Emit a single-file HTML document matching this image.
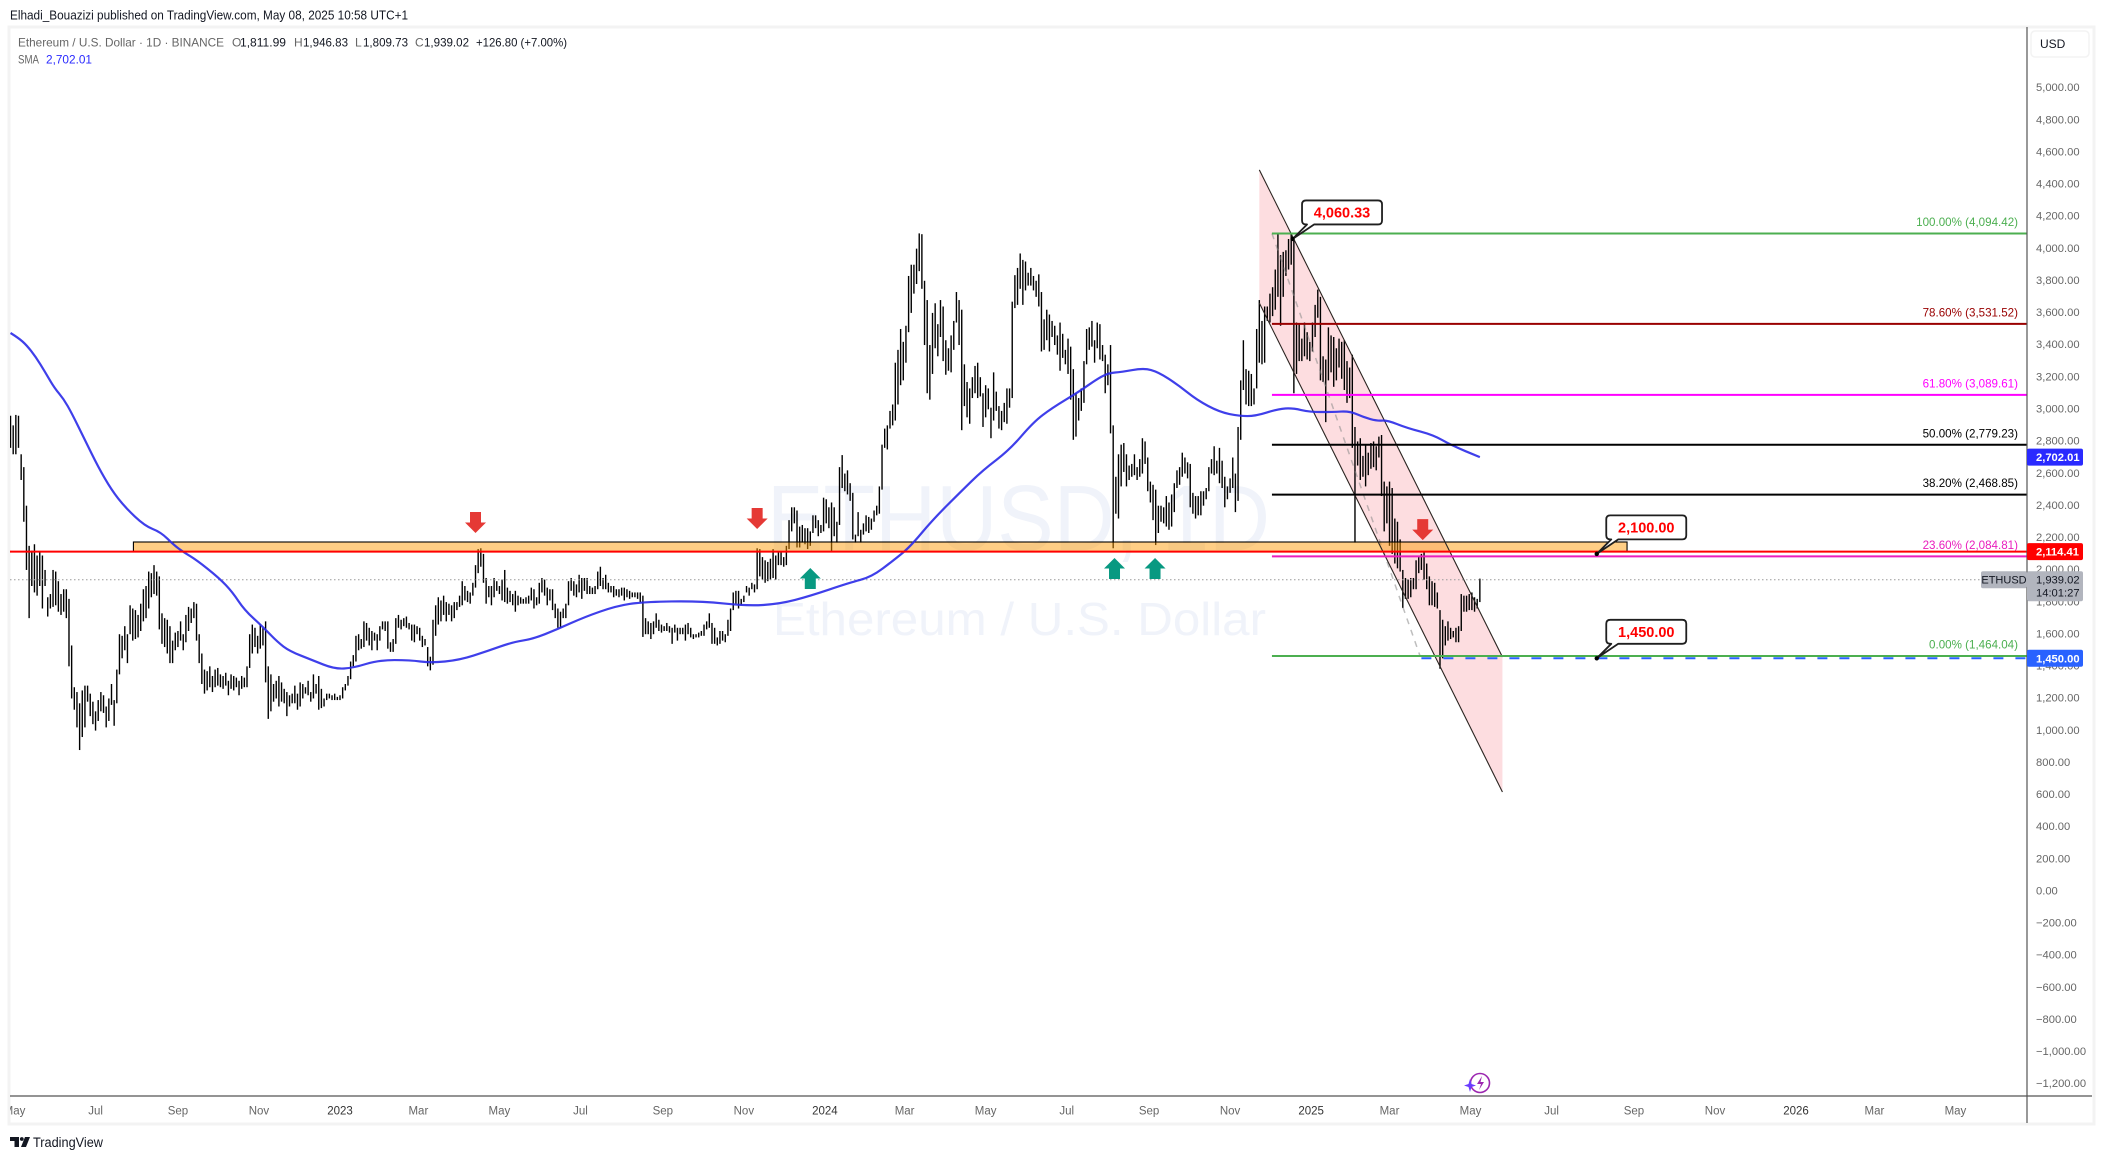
<!DOCTYPE html>
<html lang="en">
<head>
<meta charset="utf-8">
<title>ETHUSD 1D chart</title>
<style>
html,body{margin:0;padding:0;background:#fff;}
svg{display:block;font-family:"Liberation Sans",sans-serif;}
</style>
</head>
<body>
<svg id="chart" xmlns="http://www.w3.org/2000/svg" width="2103" height="1159" viewBox="0 0 2103 1159">
  <defs>
    <clipPath id="plot-clip"><rect x="10" y="27" width="2017" height="1069"/></clipPath>
    <clipPath id="time-clip"><rect x="10" y="1097" width="2017" height="26"/></clipPath>
  </defs>
  <rect x="0" y="0" width="2103" height="1159" fill="#ffffff"/>
  <text x="10" y="19.5" font-size="12.5" fill="#131722" textLength="398" lengthAdjust="spacingAndGlyphs">Elhadi_Bouazizi published on TradingView.com, May 08, 2025 10:58 UTC+1</text>
  <rect x="9" y="27" width="2085" height="1097" fill="#ffffff" stroke="#f3f3f3" stroke-width="3"/>

  <g id="plot" clip-path="url(#plot-clip)">
    <text x="767" y="550" font-size="93" fill="#f0f3fa" textLength="503" lengthAdjust="spacingAndGlyphs">ETHUSD, 1D</text>
    <text x="773" y="635" font-size="46" fill="#f0f3fa" textLength="493" lengthAdjust="spacingAndGlyphs">Ethereum / U.S. Dollar</text>
    <g id="drawings-under"></g>
    <g id="bars"></g>
    <g id="overlays"></g>
  </g>

  <g id="time-axis">
    <line x1="10" y1="1096" x2="2092" y2="1096" stroke="#555" stroke-width="1.3"/>
    <g id="time-labels" clip-path="url(#time-clip)"></g>
  </g>

  <g id="price-axis">
    <line x1="2027" y1="27" x2="2027" y2="1123" stroke="#555" stroke-width="1.2"/>
    <g>
      <rect x="2031" y="31" width="58" height="26" rx="4" fill="#fff" stroke="#f3f3f3" stroke-width="1.5"/>
      <text x="2040" y="48" font-size="12" fill="#131722">USD</text>
    </g>
    <g id="price-ticks"></g>
    <g id="price-badges"></g>
  </g>

  <g font-size="12" fill="#666">
    <text x="18" y="46.5" textLength="206" lengthAdjust="spacingAndGlyphs">Ethereum / U.S. Dollar · 1D · BINANCE</text>
    <text x="232" y="46.5">O</text>
    <text x="240" y="46.5" fill="#131722" textLength="46" lengthAdjust="spacingAndGlyphs">1,811.99</text>
    <text x="294" y="46.5">H</text>
    <text x="303" y="46.5" fill="#131722" textLength="45" lengthAdjust="spacingAndGlyphs">1,946.83</text>
    <text x="355" y="46.5">L</text>
    <text x="363" y="46.5" fill="#131722" textLength="45" lengthAdjust="spacingAndGlyphs">1,809.73</text>
    <text x="415" y="46.5">C</text>
    <text x="424" y="46.5" fill="#131722" textLength="45" lengthAdjust="spacingAndGlyphs">1,939.02</text>
    <text x="476" y="46.5" fill="#131722" textLength="91" lengthAdjust="spacingAndGlyphs">+126.80 (+7.00%)</text>
    <text x="18" y="63.5" textLength="21" lengthAdjust="spacingAndGlyphs">SMA</text>
    <text x="46" y="63.5" fill="#2a2aff" textLength="46" lengthAdjust="spacingAndGlyphs">2,702.01</text>
  </g>

  <g fill="none">
    <circle cx="1480" cy="1083" r="9.5" stroke="#9c27b0" stroke-width="1.6"/>
    <path d="M1482 1076 L1477 1084 L1481 1084 L1479 1090 L1484 1082 L1480.500 1082 Z" fill="#9c27b0"/>
    <path d="M1470 1079 L1471.500 1084 L1476 1085.500 L1471.500 1087 L1470 1092 L1468.500 1087 L1464 1085.500 L1468.500 1084 Z" fill="#6a3cff"/>
  </g>

  <g>
    <path d="M10 1137 H19 V1147 H14.500 V1141 H10 Z M25 1137 H30 L26 1147 H21 Z" fill="#131722"/>
    <circle cx="21.800" cy="1139" r="1.900" fill="#131722"/>
    <text x="33" y="1147" font-size="13.500" fill="#131722" textLength="70" lengthAdjust="spacingAndGlyphs">TradingView</text>
  </g>
</svg>

<script>
// ---- Chart data -----------------------------------------------------------
// Two-day price bars; each row spans 30 days, first bar is 250 days before 2023-01-01.
const barStartDay = -250;
const barStepDays = 2;
const candleHighs = [
2950,2960,2900,2965,2960,2720,2640,2400,2150,2120,2160,2090,2110,2090,2000,
1830,1850,2000,1990,1930,1850,1880,1880,1820,1530,1270,1240,1170,1250,1280,
1280,1230,1180,1120,1190,1240,1220,1150,1200,1290,1190,1380,1600,1590,1650,
1600,1780,1760,1750,1720,1790,1880,1900,1990,1980,2030,1990,1960,1730,1700,
1690,1650,1560,1610,1620,1680,1600,1720,1770,1760,1800,1790,1600,1480,1380,
1370,1400,1340,1380,1390,1350,1340,1360,1310,1350,1340,1330,1310,1340,1330,
1400,1600,1660,1640,1590,1660,1640,1680,1400,1350,1290,1310,1340,1300,1260,
1240,1220,1230,1280,1230,1300,1290,1270,1310,1240,1350,1290,1340,1260,1200,
1230,1230,1220,1230,1210,1220,1270,1290,1340,1430,1470,1590,1600,1570,1680,
1670,1640,1620,1610,1600,1650,1680,1680,1680,1550,1570,1700,1720,1690,1700,
1710,1670,1660,1660,1650,1640,1590,1570,1520,1460,1690,1780,1830,1810,1840,
1800,1790,1780,1800,1800,1840,1930,1900,1870,1860,1920,2030,2130,2135,2100,
1950,1900,1900,1950,1930,1900,1940,2000,1890,1870,1850,1870,1840,1830,1820,
1830,1840,1890,1880,1830,1920,1950,1940,1890,1880,1880,1790,1760,1740,1760,
1790,1930,1950,1930,1910,1970,1950,1950,1950,1900,1890,1900,1990,2020,1950,
1970,1920,1900,1900,1880,1880,1890,1890,1880,1870,1860,1860,1860,1860,1840,
1700,1680,1670,1680,1730,1690,1660,1650,1670,1650,1640,1660,1640,1640,1640,
1660,1670,1640,1600,1600,1610,1620,1660,1680,1730,1670,1640,1580,1620,1620,
1600,1690,1760,1860,1870,1870,1820,1840,1900,1890,1920,1910,2135,2130,2080,
2060,2050,2070,2130,2090,2110,2110,2080,2150,2310,2390,2390,2370,2270,2280,
2260,2260,2240,2340,2340,2310,2280,2450,2440,2390,2420,2390,2300,2640,2715,
2600,2620,2540,2480,2220,2360,2250,2290,2340,2330,2320,2370,2400,2520,2780,
2880,2900,2990,3030,3290,3370,3500,3420,3520,3830,3900,3900,4000,4095,4090,
3800,3680,3400,3600,3660,3530,3680,3640,3430,3380,3460,3550,3730,3680,3620,
3280,3170,3130,3200,3270,3290,3200,3100,3150,3130,3010,3230,3110,3020,2990,
3040,3130,3130,3670,3835,3880,3970,3930,3920,3850,3880,3830,3800,3840,3730,
3560,3620,3590,3550,3520,3460,3540,3470,3370,3440,3390,3250,3100,3070,3130,
3300,3500,3510,3550,3430,3540,3530,3400,3340,3280,3400,2900,2580,2720,2780,
2790,2720,2650,2660,2720,2640,2690,2820,2800,2700,2550,2530,2500,2400,2400,
2390,2460,2420,2470,2540,2620,2640,2730,2700,2670,2660,2480,2460,2460,2490,
2490,2510,2640,2690,2770,2680,2760,2680,2580,2520,2570,2700,2600,2890,3180,
3430,3250,3240,3220,3130,3500,3680,3550,3640,3640,3720,3760,3870,4095,3960,
3980,3990,4060,4100,4050,3540,3530,3440,3540,3480,3420,3540,3650,3745,3700,
3330,3310,3510,3460,3450,3380,3440,3420,3430,3300,3260,3340,2890,2800,2820,
2710,2780,2730,2790,2800,2770,2830,2840,2550,2520,2550,2510,2320,2300,2190,
2000,1950,1940,1950,1950,2060,2080,2100,2110,2040,1960,1930,1920,1860,1750,
1690,1650,1680,1640,1620,1640,1650,1850,1840,1840,1850,1860,1830,1820,1946
];
const candleLows = [
2780,2760,2720,2720,2760,2560,2300,2000,1700,1900,1860,1840,1900,1760,1900,
1710,1760,1770,1780,1740,1720,1740,1700,1400,1200,1130,1020,879,960,1020,
1180,1090,1040,1000,1060,1120,1110,1020,1060,1160,1030,1170,1350,1450,1500,
1420,1600,1560,1570,1580,1620,1680,1700,1760,1830,1850,1840,1630,1540,1520,
1480,1420,1420,1500,1520,1560,1500,1550,1620,1670,1700,1560,1420,1290,1230,
1250,1270,1240,1270,1280,1270,1260,1280,1220,1260,1250,1270,1220,1260,1270,
1270,1390,1480,1520,1480,1510,1530,1300,1073,1120,1180,1200,1150,1180,1170,
1090,1150,1170,1170,1130,1150,1200,1230,1220,1180,1200,1230,1130,1140,1150,
1190,1200,1190,1190,1190,1190,1200,1250,1280,1320,1400,1430,1500,1510,1520,
1560,1530,1500,1560,1500,1560,1630,1620,1510,1490,1490,1540,1640,1630,1650,
1640,1630,1560,1550,1600,1560,1520,1530,1400,1375,1410,1590,1660,1680,1720,
1680,1720,1680,1700,1750,1770,1780,1810,1800,1790,1840,1890,1980,2020,1920,
1790,1830,1780,1830,1870,1850,1810,1800,1790,1800,1780,1740,1780,1790,1790,
1790,1790,1810,1760,1780,1790,1860,1840,1780,1810,1750,1700,1640,1640,1700,
1700,1780,1870,1840,1830,1860,1820,1870,1850,1850,1850,1850,1880,1900,1880,
1880,1860,1860,1830,1840,1830,1840,1810,1830,1820,1830,1830,1820,1800,1583,
1600,1600,1570,1600,1640,1620,1610,1620,1620,1610,1540,1610,1560,1600,1600,
1560,1600,1580,1570,1580,1580,1590,1590,1630,1640,1540,1540,1530,1540,1560,
1550,1590,1620,1750,1790,1760,1780,1800,1860,1840,1880,1860,1880,1960,1940,
1920,1930,1940,1950,1940,2030,2030,2020,2030,2130,2240,2290,2140,2140,2170,
2160,2130,2150,2230,2260,2210,2230,2240,2290,2260,2110,2210,2170,2280,2510,
2490,2470,2430,2190,2170,2210,2170,2220,2240,2230,2250,2300,2340,2350,2500,
2760,2750,2880,2900,2930,3030,3150,3180,3290,3480,3600,3720,3780,3860,3750,
3400,3100,3060,3220,3380,3330,3450,3300,3215,3240,3230,3370,3540,3400,2870,
3020,2950,2910,3070,3100,3070,3080,2890,2950,3000,2820,2930,2990,2880,2870,
2920,2910,3010,3070,3630,3650,3750,3650,3740,3770,3770,3740,3700,3640,3360,
3370,3430,3360,3450,3400,3340,3240,3320,3280,3220,3060,2810,2830,2930,2990,
3040,3280,3370,3390,3290,3380,3310,3300,3100,3150,2850,2135,2350,2320,2520,
2610,2520,2560,2580,2590,2560,2580,2600,2660,2490,2420,2310,2155,2230,2300,
2290,2270,2250,2270,2360,2510,2530,2580,2600,2570,2390,2350,2320,2340,2340,
2400,2440,2490,2600,2590,2600,2540,2510,2390,2440,2480,2510,2360,2430,2810,
3120,3030,3020,3020,3030,3130,3290,3280,3290,3550,3540,3580,3620,3700,3520,
3700,3830,3870,3900,3100,3220,3300,3300,3330,3310,3300,3360,3450,3570,3180,
3170,2920,3180,3230,3140,3180,3260,3190,3120,3040,3070,2760,2170,2650,2560,
2580,2520,2590,2630,2640,2620,2700,2460,2240,2290,2150,2100,2040,2010,1990,
1763,1820,1820,1830,1880,1880,1980,2000,1940,1880,1780,1780,1770,1760,1385,
1450,1530,1560,1570,1580,1550,1550,1620,1740,1740,1750,1750,1740,1760,1800
];

// Simple moving average: days since 2023-01-01 and value.
const smaDays = [-248,-242,-236,-229,-222,-215,-208,-202,-192,-182,-172,-162,-147,-135,-125,-118,-108,-91,-81,-72,-58,-47,-38,-21,-4,10,29,53,68,90,111,130,145,164,184,208,228,271,306,331,354,383,400,417,429,446,467,484,504,522,536,556,571,579,588,605,616,631,645,662,677,689,706,717,730,747,760,770,781,788,803,823,836,858];
const smaValues = [3475,3444,3400,3326,3232,3133,3064,2977,2809,2641,2498,2392,2274,2236,2155,2112,2062,1950,1863,1751,1645,1551,1495,1439,1383,1390,1439,1439,1421,1439,1495,1551,1570,1632,1707,1776,1801,1807,1776,1788,1838,1919,1956,2062,2143,2311,2485,2622,2747,2921,3008,3108,3195,3226,3232,3257,3232,3151,3058,2983,2958,2958,3002,3008,2983,2983,2989,2952,2927,2933,2884,2840,2778,2702.01];

// Price axis ticks
const priceTicks = [5000,4800,4600,4400,4200,4000,3800,3600,3400,3200,3000,2800,2600,2400,2200,2000,1800,1600,1400,1200,1000,800,600,400,200,0,-200,-400,-600,-800,-1000,-1200];

// Time axis ticks
const timeTickLabels = ["May","Jul","Sep","Nov","2023","Mar","May","Jul","Sep","Nov","2024","Mar","May","Jul","Sep","Nov","2025","Mar","May","Jul","Sep","Nov","2026","Mar","May"];
const timeTickDates = ["2022-05-01","2022-07-01","2022-09-01","2022-11-01","2023-01-01","2023-03-01","2023-05-01","2023-07-01","2023-09-01","2023-11-01","2024-01-01","2024-03-01","2024-05-01","2024-07-01","2024-09-01","2024-11-01","2025-01-01","2025-03-01","2025-05-01","2025-07-01","2025-09-01","2025-11-01","2026-01-01","2026-03-01","2026-05-01"];

// Fibonacci retracement
const fibRatios = [100,78.6,61.8,50,38.2,23.6,0];
const fibPrices = [4094.42,3531.52,3089.61,2779.23,2468.85,2084.81,1464.04];
const fibStartDay = 701.5;

// Falling channel (days and prices of the corner points)
const channelStartDay = 692;
const channelEndDay = 875;
const channelUpperPrices = [4490,1458];
const channelLowerPrices = [3662,618];

// Fib trend line
const trendDays = [701.5,813];
const trendPrices = [4094.42,1464.04];

// Support zone
const zoneDays = [-155.500,968.800];
const zonePrices = [2174,2114.41];

// Horizontal price levels
const resistancePrice = 2114.41;
const targetPrice = 1450;
const targetStartDay = 814;
const lastClose = 1939.02;
const lastSma = 2702.01;

// Arrow markers
const downArrowDays = [102,314,815];
const downArrowPrices = [2230,2255,2186];
const upArrowDays = [354,583,613.5];
const upArrowPrices = [2012,2074,2074];

// Price callouts
const calloutDays = [717,946,946];
const calloutPrices = [4060.33,2100,1450];

// ---- Axis functions -------------------------------------------------------
const NS = "http://www.w3.org/2000/svg";
const DAY0 = Date.UTC(2023,0,1);
function xOfDay(d){ return 340 + 1.3285 * d; }
function yOfPrice(p){ return 88 + (5000 - p) * 0.16065; }
function dayOfDate(s){ return (Date.parse(s + "T00:00:00Z") - DAY0) / 86400000; }
function fmt(p){
  const s = Math.abs(p).toFixed(2).replace(/\B(?=(\d{3})+(?!\d))/g, ",");
  return (p < 0 ? "\u2212" : "") + s;
}
function add(parent, tag, attrs, text){
  const el = document.createElementNS(NS, tag);
  for (const k in attrs) el.setAttribute(k, attrs[k]);
  if (text !== undefined) el.textContent = text;
  parent.appendChild(el);
  return el;
}
const under = document.getElementById("drawings-under");
const barsG = document.getElementById("bars");
const over = document.getElementById("overlays");
const ticksG = document.getElementById("price-ticks");
const timeG = document.getElementById("time-labels");
const badgesG = document.getElementById("price-badges");

// ---- Channel fill and lines ----------------------------------------------
const chX1 = xOfDay(channelStartDay), chX2 = xOfDay(channelEndDay);
const channelFill = add(under, "polygon", {
  points: [chX1+","+yOfPrice(channelUpperPrices[0]), chX2+","+yOfPrice(channelUpperPrices[1]), chX2+","+yOfPrice(channelLowerPrices[1]), chX1+","+yOfPrice(channelLowerPrices[0])].join(" "),
  fill: "#f23645", "fill-opacity": "0.17"
});



// ---- Price bars ------------------------------------------------------------
candleHighs.forEach(function(h, i){
  const l = candleLows[i];
  if (l === undefined) return;
  const x = xOfDay(barStartDay + i * barStepDays);
  const bar = add(barsG, "line", {x1:x, x2:x, y1:yOfPrice(h), y2:yOfPrice(l), stroke:"#000", "stroke-width":"1.4"});
  
  
});

// ---- Trend, zone, channel borders ------------------------------------------
const trendLine = add(over, "line", {x1:xOfDay(trendDays[0]), y1:yOfPrice(trendPrices[0]), x2:xOfDay(trendDays[1]), y2:yOfPrice(trendPrices[1]), stroke:"#888", "stroke-opacity":"0.55", "stroke-width":"1.5", "stroke-dasharray":"6 6"});



const zone = add(over, "rect", {x:xOfDay(zoneDays[0]), y:yOfPrice(zonePrices[0]), width:xOfDay(zoneDays[1])-xOfDay(zoneDays[0]), height:yOfPrice(zonePrices[1])-yOfPrice(zonePrices[0]), fill:"#ff9800", "fill-opacity":"0.48", stroke:"#000", "stroke-width":"1.1"});



const upperLine = add(over, "line", {x1:chX1, y1:yOfPrice(channelUpperPrices[0]), x2:chX2, y2:yOfPrice(channelUpperPrices[1]), stroke:"#2a2420", "stroke-width":"1.1"});


const lowerLine = add(over, "line", {x1:chX1, y1:yOfPrice(channelLowerPrices[0]), x2:chX2, y2:yOfPrice(channelLowerPrices[1]), stroke:"#2a2420", "stroke-width":"1.1"});



// ---- Current price dotted line ---------------------------------------------
const lastLine = add(over, "line", {x1:10, x2:2027, y1:yOfPrice(lastClose), y2:yOfPrice(lastClose), stroke:"#9a9a9a", "stroke-width":"1", "stroke-dasharray":"1.500 2.500"});



// ---- SMA (smoothed through the midpoints of the sampled values) --------------
let smaPath = "M" + xOfDay(smaDays[0]) + " " + yOfPrice(smaValues[0]);
for (let i = 1; i < smaDays.length - 1; i++) {
  const cx = xOfDay(smaDays[i]), cy = yOfPrice(smaValues[i]);
  const mx = (cx + xOfDay(smaDays[i + 1])) / 2, my = (cy + yOfPrice(smaValues[i + 1])) / 2;
  smaPath += " Q" + cx + " " + cy + " " + mx + " " + my;
}
smaPath += " L" + xOfDay(smaDays[smaDays.length - 1]) + " " + yOfPrice(smaValues[smaValues.length - 1]);
const smaLine = add(over, "path", {d:smaPath, fill:"none", stroke:"#2a2ae8", "stroke-opacity":"0.9", "stroke-width":"2.2", "stroke-linejoin":"round"});



// ---- Horizontal levels -------------------------------------------------------
const fibColors = ["#4caf50","#990000","#ff00ff","#000000","#000000","#e91ebd","#4caf50"];
fibRatios.forEach(function(r, i){
  const y = yOfPrice(fibPrices[i]);
  const fibLine = add(over, "line", {x1:xOfDay(fibStartDay), x2:2027, y1:y, y2:y, stroke:fibColors[i], "stroke-width":"2"});
  
  
  const fibLabel = add(over, "text", {x:2018, y:y-7.500, "text-anchor":"end", "font-size":"11.600", fill:fibColors[i]}, r.toFixed(2)+"% ("+fmt(fibPrices[i])+")");
  
  
});

const resLine = add(over, "line", {x1:10, x2:2027, y1:yOfPrice(resistancePrice), y2:yOfPrice(resistancePrice), stroke:"#ff0000", "stroke-width":"2"});



const tgtLine = add(over, "line", {x1:xOfDay(targetStartDay), x2:2027, y1:yOfPrice(targetPrice), y2:yOfPrice(targetPrice), stroke:"#2962ff", "stroke-width":"2", "stroke-dasharray":"10 12"});



// ---- Arrows ---------------------------------------------------------------
function arrowPoints(x, tip, dir){
  const h = 21, head = 10.500, hw = 10.500, sw = 5.500;
  return [[x,tip],[x+hw,tip-dir*head],[x+sw,tip-dir*head],[x+sw,tip-dir*h],[x-sw,tip-dir*h],[x-sw,tip-dir*head],[x-hw,tip-dir*head]].map(function(p){return p.join(",");}).join(" ");
}
downArrowDays.forEach(function(d, i){
  const arrow = add(over, "polygon", {points:arrowPoints(xOfDay(d), yOfPrice(downArrowPrices[i]), 1), fill:"#e53935"});
  
  
});
upArrowDays.forEach(function(d, i){
  const arrow = add(over, "polygon", {points:arrowPoints(xOfDay(d), yOfPrice(upArrowPrices[i]), -1), fill:"#089981"});
  
  
});

// ---- Callouts -------------------------------------------------------------
calloutDays.forEach(function(d, i){
  const tx = xOfDay(d), ty = yOfPrice(calloutPrices[i]);
  const bx = tx + 9.500, by = ty - 38.500, w = 80, h = 24, r = 4;
  const shape = "M"+(bx+r)+" "+by+" H"+(bx+w-r)+" Q"+(bx+w)+" "+by+" "+(bx+w)+" "+(by+r)+" V"+(by+h-r)+" Q"+(bx+w)+" "+(by+h)+" "+(bx+w-r)+" "+(by+h)+" H"+(bx+12)+" L"+tx+" "+ty+" L"+(bx+5)+" "+(by+h)+" H"+(bx+r)+" Q"+bx+" "+(by+h)+" "+bx+" "+(by+h-r)+" V"+(by+r)+" Q"+bx+" "+by+" "+(bx+r)+" "+by+" Z";
  const box = add(over, "path", {d:shape, fill:"#ffffff", stroke:"#1f1f1f", "stroke-width":"1.800", "stroke-linejoin":"round"});
  
  
  const dot = add(over, "circle", {cx:tx, cy:ty, r:2.200, fill:"#000"});
  
  
  const label = add(over, "text", {x:bx+w/2, y:by+17, "text-anchor":"middle", "font-size":"14.500", "font-weight":"700", fill:"#ff0000"}, fmt(calloutPrices[i]));
  
  
});

// ---- Price axis ticks -------------------------------------------------------
priceTicks.forEach(function(p){
  const t = add(ticksG, "text", {x:2036, y:yOfPrice(p)+3.200, "font-size":"11.200", fill:"#666"}, fmt(p));
  
  
});

// ---- Time axis ticks --------------------------------------------------------
timeTickLabels.forEach(function(label, i){
  const isYear = /^\d{4}$/.test(label);
  const t = add(timeG, "text", {x:xOfDay(dayOfDate(timeTickDates[i])), y:1114.500, "text-anchor":"middle", "font-size":"11.500", fill:isYear ? "#333" : "#666"}, label);
  
  
});

// ---- Price badges -----------------------------------------------------------
function badge(price, color, name){
  const y = yOfPrice(price);
  const r = add(badgesG, "rect", {x:2027, y:y-8.500, width:56, height:17, rx:2, fill:color});
  
  
  const t = add(badgesG, "text", {x:2036, y:y+4, "font-size":"11.200", fill:"#fff", "font-weight":"700"}, fmt(price));
  
  
}
badge(lastSma, "#2a2aff", "sma");
badge(resistancePrice, "#ff0000", "resistance");
badge(targetPrice, "#2962ff", "target");

const lastY = yOfPrice(lastClose);
const lastBox = add(badgesG, "rect", {x:2027, y:lastY-8.500, width:56, height:30, rx:2, fill:"#b2b5be"});


const lastText = add(badgesG, "text", {x:2036, y:lastY+4, "font-size":"11.200", fill:"#131722"}, fmt(lastClose));


const countdown = add(badgesG, "text", {x:2036, y:lastY+17, "font-size":"11.200", fill:"#131722"}, "14:01:27");


const symBox = add(badgesG, "rect", {x:1981, y:lastY-8.500, width:46, height:17, rx:2, fill:"#b2b5be"});


const symText = add(badgesG, "text", {x:2004, y:lastY+4, "text-anchor":"middle", "font-size":"11", fill:"#131722"}, "ETHUSD");


</script>
</body>
</html>
